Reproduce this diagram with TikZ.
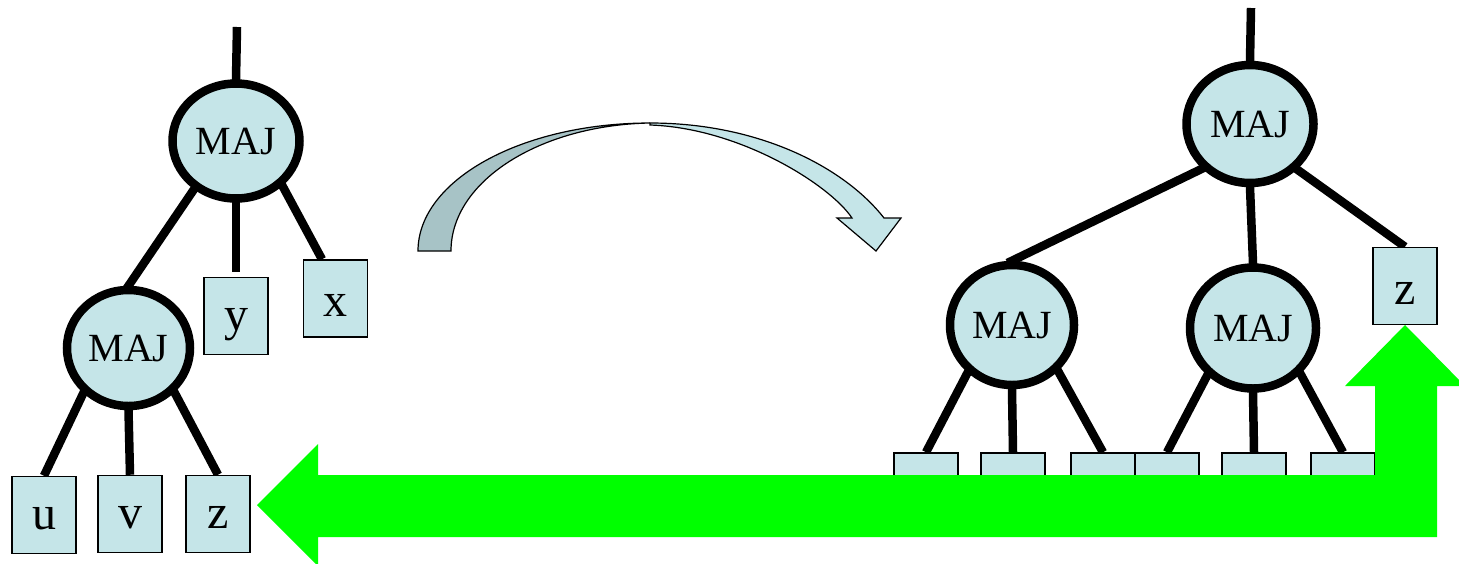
\documentclass[tikz,border=0pt]{standalone}
\usepackage{fontspec}
\setmainfont{Liberation Serif}
\usetikzlibrary{shapes.geometric,calc}
\pgfdeclarelayer{bg}
\pgfsetlayers{bg,main}
\definecolor{nodefill}{HTML}{C5E5E8}
\definecolor{darkfill}{HTML}{A7C3C6}
\definecolor{arrowgreen}{HTML}{00FF00}
\begin{document}
\begin{tikzpicture}[x=1pt,y=-1pt,
 gate/.style={ellipse, draw=black, line width=8.5pt, fill=nodefill, inner sep=0pt, font=\fontsize{40}{40}\selectfont},
 leaf/.style={rectangle, draw=black, line width=1.5pt, fill=nodefill, minimum width=64pt, minimum height=77pt, inner sep=0pt, font=\fontsize{48}{48}\selectfont, text height=30pt, text depth=2pt},
 wire/.style={line width=8.5pt, line cap=butt, shorten <=-5pt}]
\useasboundingbox (0,0) rectangle (1459,563);
% left tree
\coordinate (topL) at (237,27);
\node[gate, minimum width=127pt, minimum height=115pt] (maj1) at (236,141) {MAJ};
\node[gate, minimum width=123pt, minimum height=116pt] (maj2) at (128.5,348) {MAJ};
\node[leaf] (yL) at (236,316) {y};
\node[leaf, text height=38pt] (xL) at (335.5,298.5) {x};
\node[leaf] (uL) at (44,515) {u};
\node[leaf] (vL) at (130,514) {v};
\node[leaf] (zL) at (218,514) {z};
% right tree
\coordinate (topR) at (1251,8);
\node[gate, minimum width=127pt, minimum height=118pt] (majR) at (1250,124) {MAJ};
\node[gate, minimum width=124pt, minimum height=120pt] (majA) at (1012,325) {MAJ};
\node[gate, minimum width=126pt, minimum height=121pt] (majB) at (1253,328) {MAJ};
\node[leaf, text height=38pt] (zR) at (1405,286) {z};
\node[leaf] (b1) at (926,491.5) {};
\node[leaf] (b2) at (1013,491.5) {};
\node[leaf] (b3) at (1103,491.5) {};
\node[leaf] (b4) at (1167,491.5) {};
\node[leaf] (b5) at (1254,491.5) {};
\node[leaf] (b6) at (1343,491.5) {};
\begin{pgfonlayer}{bg}
\draw[wire, shorten <=0pt, shorten >=-5pt] (topL) -- (maj1.north);
\draw[wire, shorten >=-5pt] (maj1.229) -- (maj2.north);
\draw[wire, shorten >=5pt] (maj1.south) -- (yL.north);
\draw[wire] (maj1.316) -- (xL.109);
\draw[wire] (maj2.225) -- (uL.north);
\draw[wire] (maj2.south) -- (vL.north);
\draw[wire] (maj2.316) -- (zL.north);
\draw[wire, shorten <=0pt, shorten >=-5pt] (topR) -- (majR.north);
\draw[wire, shorten >=-5pt] (majR.223) -- (majA.north);
\draw[wire, shorten >=-5pt] (majR.south) -- (majB.north);
\draw[wire] (majR.316) -- (zR.north);
\draw[wire] (majA.227) -- (b1.north);
\draw[wire] (majA.south) -- (b2.north);
\draw[wire] (majA.315) -- (b3.north);
\draw[wire] (majB.226) -- (b4.north);
\draw[wire] (majB.south) -- (b5.north);
\draw[wire] (majB.316) -- (b6.north);
\end{pgfonlayer}
% curved arrow
\draw[line width=1.2pt, fill=darkfill] (418,251) .. controls (418,180) and (522,123) .. (650,123) .. controls (540,125) and (451,181) .. (451,251) -- cycle;
\draw[line width=1.2pt, fill=nodefill, line join=miter] (650,123) .. controls (760,123) and (845,168) .. (884,218) -- (901,218) -- (876,251) -- (837,218) -- (852,218) .. controls (830,185) and (740,128) .. (650,125) -- cycle;
% green arrow
\begin{scope}
\clip (0,0) rectangle (1459,563);
\fill[arrowgreen] (257,505) -- (318,444) -- (318,475) -- (1375,475) -- (1375,386) -- (1345,386) -- (1405,325) -- (1465,386) -- (1437,386) -- (1437,537) -- (318,537) -- (318,566) -- cycle;
\end{scope}
\end{tikzpicture}
\end{document}
